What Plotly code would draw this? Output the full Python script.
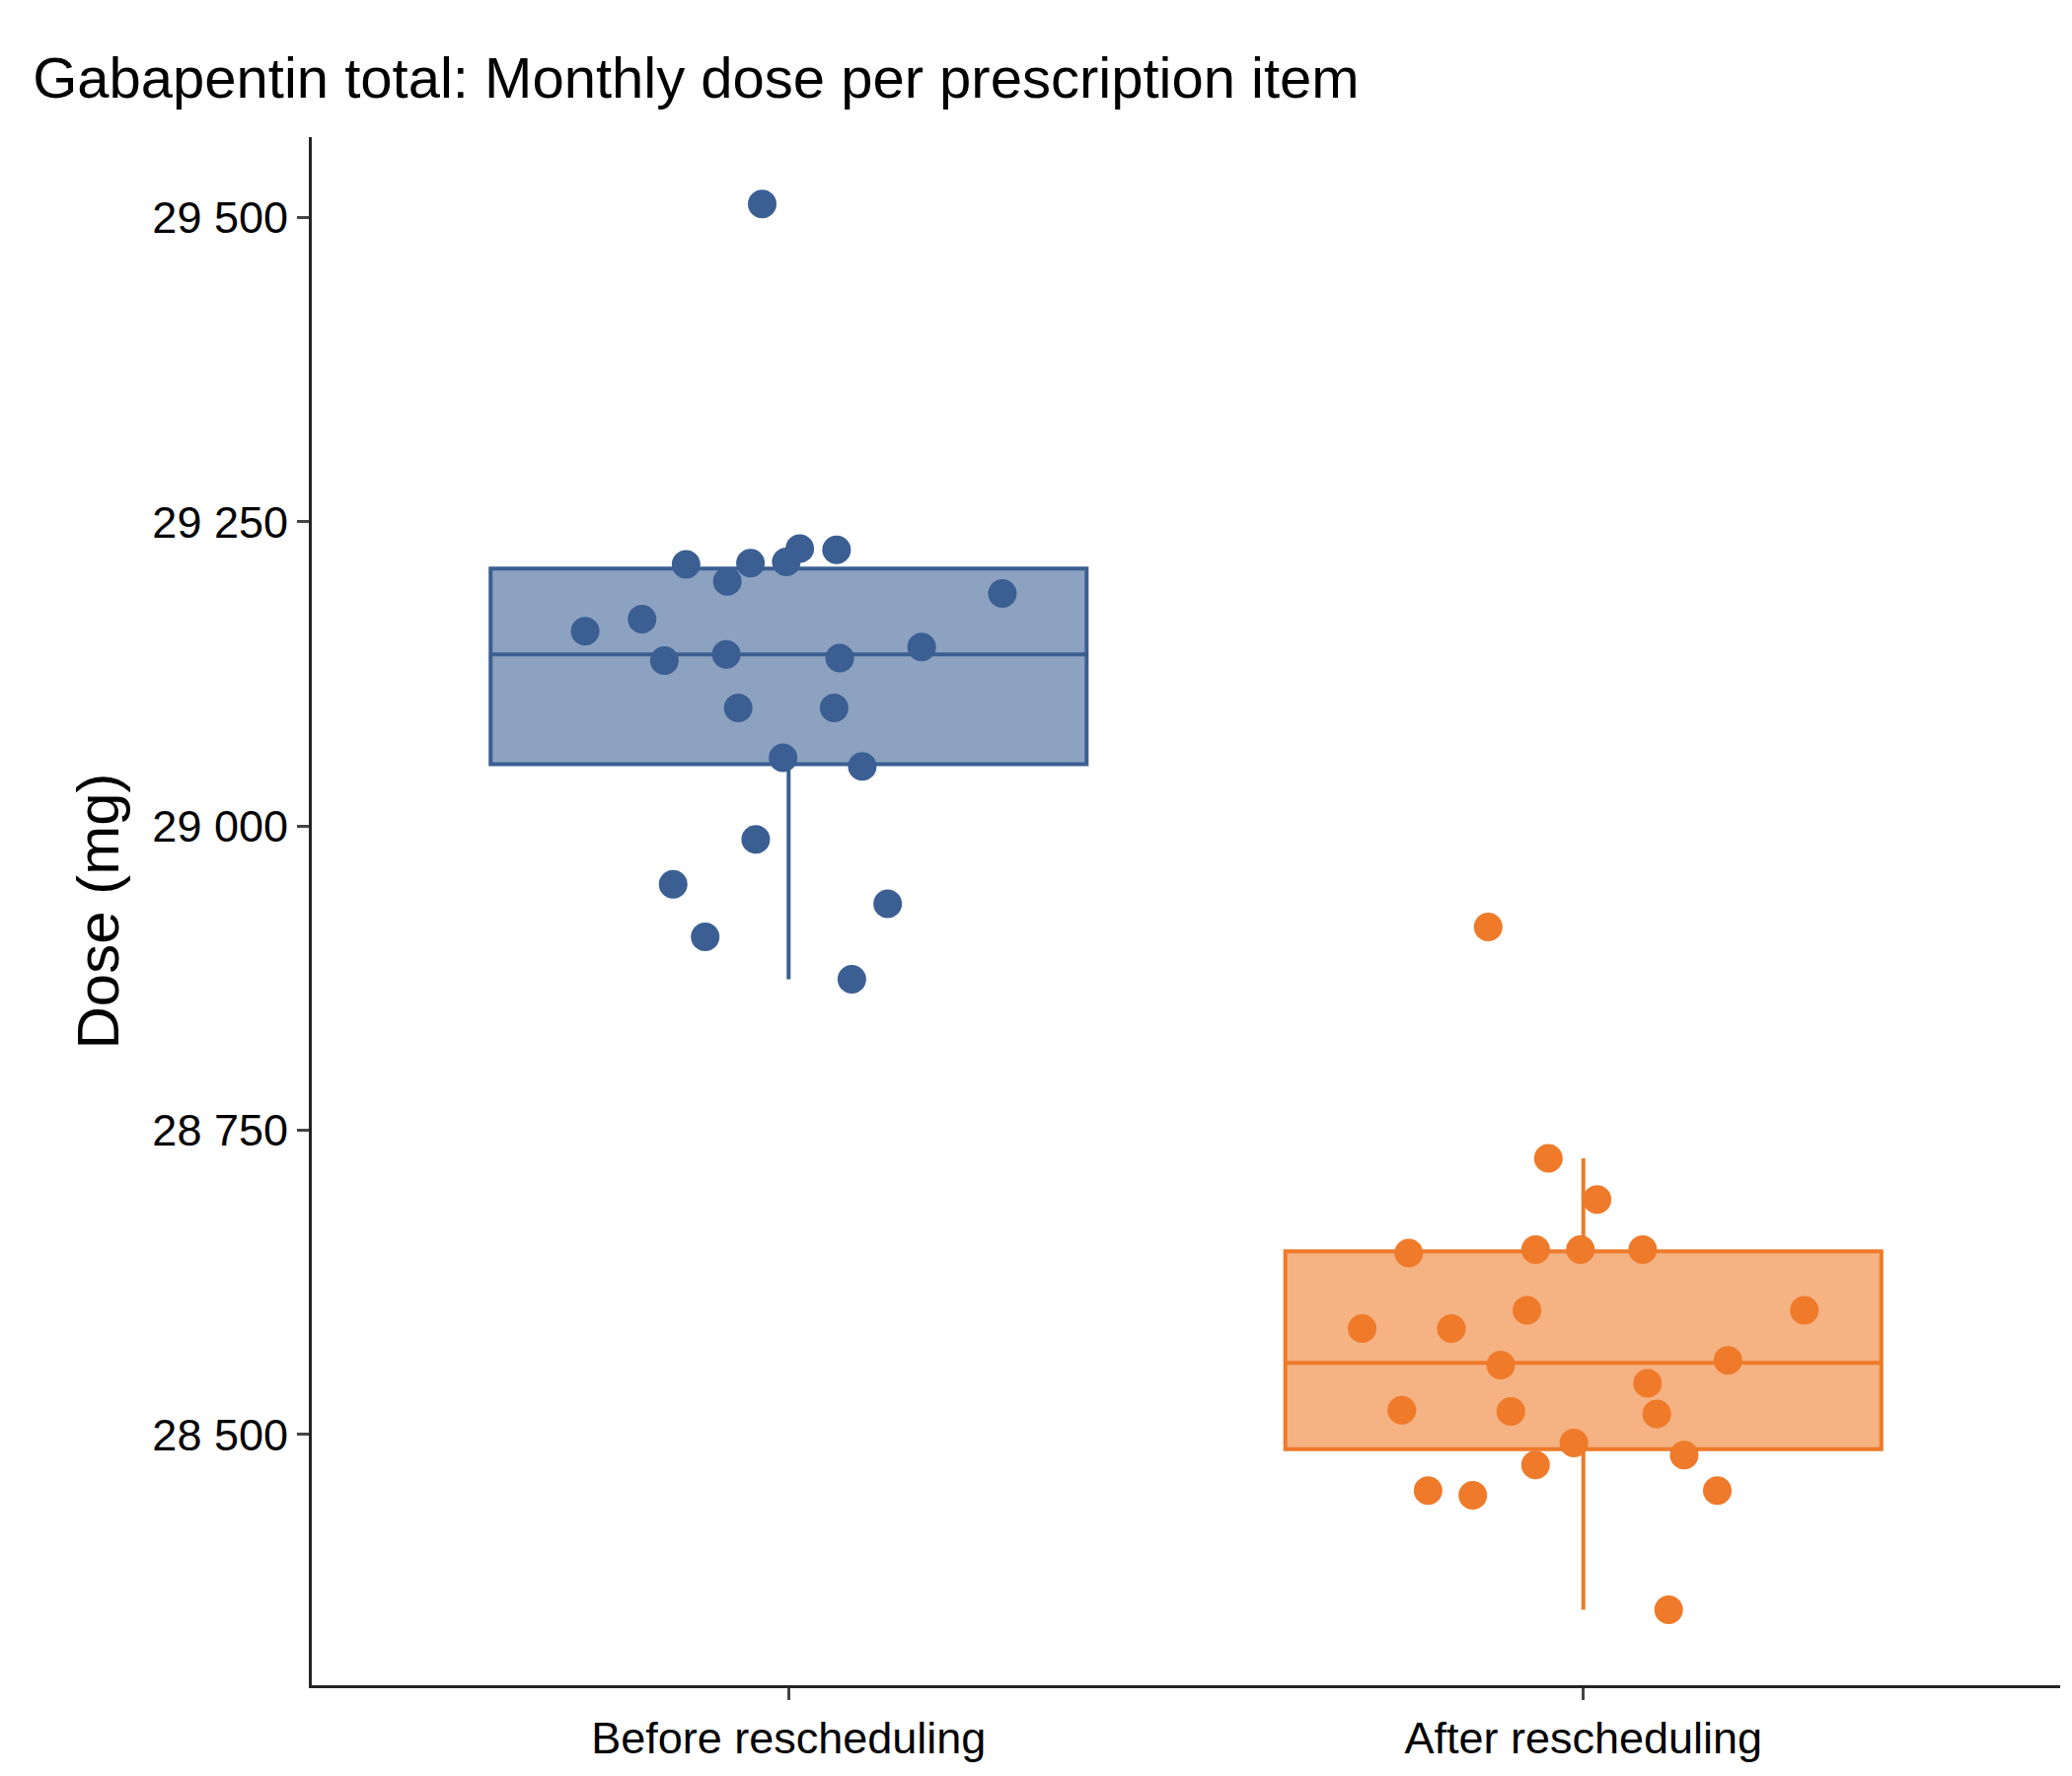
import plotly.graph_objects as go

categories = ["Before rescheduling", "After rescheduling"]

before_dose = [29511, 29227, 29228, 29215, 29216, 29217, 29201, 29191, 29170, 29160,
               29147, 29141, 29138, 29136, 29097, 29097, 29056, 29049, 28989, 28952,
               28936, 28909, 28874]
after_dose = [28917, 28727, 28693, 28652, 28652, 28649, 28652, 28602, 28602, 28587,
              28587, 28557, 28561, 28542, 28519, 28517, 28520, 28493, 28483, 28475,
              28454, 28454, 28450, 28356]

series = [
    (categories[0], before_dose, "#3b5f93", "rgba(59,95,147,0.58)"),
    (categories[1], after_dose, "#ee7a2a", "rgba(238,122,42,0.58)"),
]

fig = go.Figure()
for name, vals, line_col, fill_col in series:
    fig.add_trace(go.Box(
        x=[name] * len(vals), y=vals, name=name,
        boxpoints="all", jitter=0.85, pointpos=0,
        line=dict(color=line_col, width=4), fillcolor=fill_col,
        marker=dict(color=line_col, size=29, opacity=1),
        whiskerwidth=0, width=0.75,
    ))

fig.update_layout(
    template="simple_white",
    width=2100, height=1800,
    showlegend=False,
    font=dict(family="Liberation Sans, Arial", size=45, color="black"),
    title=dict(text="Gabapentin total: Monthly dose per prescription item",
               x=0.012, y=0.972, font=dict(size=58)),
    margin=dict(l=308, r=20, t=131, b=100),
    separators=". ",
)
fig.update_yaxes(title=dict(text="Dose (mg)", font=dict(size=60), standoff=15),
                 range=[28294, 29566], tickvals=[28500, 28750, 29000, 29250, 29500],
                 tickformat=",d", ticks="outside", ticklen=12, linewidth=3, tickwidth=3,
                 showgrid=False)
fig.update_xaxes(ticks="outside", ticklen=12, linewidth=3, tickwidth=3,
                 range=[-0.6, 1.6])

fig.write_html("out.html")
